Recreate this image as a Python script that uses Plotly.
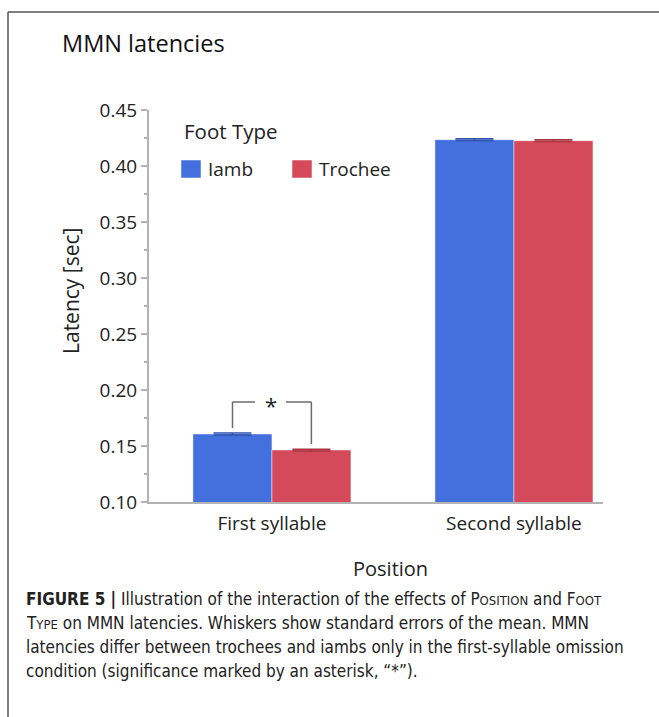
import plotly.graph_objects as go

# ---- data ----
positions = ["First syllable", "Second syllable"]
foot_types = ["Iamb", "Trochee"]
iamb_latency = [0.1607, 0.4235]
trochee_latency = [0.1464, 0.4226]
iamb_se = [0.0009, 0.0008]
trochee_se = [0.0008, 0.0008]
y_ticks = [0.10, 0.15, 0.20, 0.25, 0.30, 0.35, 0.40, 0.45]
bar_colors = ["#4470dd", "#d54a5a"]
err_colors = ["#2f52b0", "#a8353f"]

W, H = 659, 717
L, R, T, B = 149, 603, 110, 502  # plot area in pixels

def px(x):
    return (x - L) / (R - L)

def py(y):
    return (B - y) / (B - T)

FONT = "Open Sans, Noto Sans, sans-serif"
CAP_FONT = "Liberation Sans Narrow, DejaVu Sans Condensed, Arial Narrow, sans-serif"

fig = go.Figure()
series = [(foot_types[0], iamb_latency, iamb_se), (foot_types[1], trochee_latency, trochee_se)]
for i, (name, vals, se) in enumerate(series):
    fig.add_trace(go.Bar(
        x=positions, y=vals, name=name,
        marker=dict(color=bar_colors[i], line=dict(color="rgba(255,255,255,0.45)", width=1)),
        error_y=dict(type="data", array=se, visible=True, color=err_colors[i],
                     thickness=1.5, width=19),
        showlegend=False,
    ))

# significance bracket over first syllable
off = 0.163
top_y = 0.1893
bL = iamb_latency[0] + iamb_se[0] + 0.0045
bR = trochee_latency[0] + trochee_se[0] + 0.0045
line_style = dict(color="#6b6b6b", width=1.5)
fig.add_shape(type="line", xref="x", yref="y", x0=-off, x1=-off, y0=bL, y1=top_y, line=line_style)
fig.add_shape(type="line", xref="x", yref="y", x0=-off, x1=-0.07, y0=top_y, y1=top_y, line=line_style)
fig.add_shape(type="line", xref="x", yref="y", x0=0.058, x1=off, y0=top_y, y1=top_y, line=line_style)
fig.add_shape(type="line", xref="x", yref="y", x0=off, x1=off, y0=bR, y1=top_y, line=line_style)
fig.add_annotation(x=-0.005, y=top_y, xref="x", yref="y", text="*", showarrow=False,
                   font=dict(family=FONT, size=22, color="#222"), yanchor="middle", yshift=-3)

# custom legend
fig.add_annotation(x=px(182), y=py(131), xref="paper", yref="paper", text="Foot Type",
                   showarrow=False, xanchor="left", yanchor="middle",
                   font=dict(family=FONT, size=20.5, color="#222"))
sw_x = [181, 292]
for i, name in enumerate(foot_types):
    fig.add_shape(type="rect", xref="paper", yref="paper",
                  x0=px(sw_x[i]), x1=px(sw_x[i] + 20), y0=py(178), y1=py(160),
                  fillcolor=bar_colors[i], line=dict(color="rgba(255,255,255,0.5)", width=1))
    fig.add_annotation(x=px(sw_x[i] + 25), y=py(169), xref="paper", yref="paper", text=name,
                       showarrow=False, xanchor="left", yanchor="middle",
                       font=dict(family=FONT, size=19, color="#222"))

# title
fig.add_annotation(x=px(60), y=py(43), xref="paper", yref="paper", text="MMN latencies",
                   showarrow=False, xanchor="left", yanchor="middle",
                   font=dict(family=FONT, size=23.5, color="#111"))
# y-axis title
fig.add_annotation(x=px(71), y=py(291), xref="paper", yref="paper", text="Latency [sec]",
                   showarrow=False, textangle=-90, xanchor="center", yanchor="middle",
                   font=dict(family=FONT, size=21, color="#222"))
# x-axis title
fig.add_annotation(x=px(390), y=py(568), xref="paper", yref="paper", text="Position",
                   showarrow=False, xanchor="center", yanchor="middle",
                   font=dict(family=FONT, size=20, color="#222"))

# caption
sc = '<span style="font-size:13px">'
cap_lines = [
    "<b>FIGURE 5 |</b> Illustration of the interaction of the effects of P" + sc + "OSITION</span> and F" + sc + "OOT</span>",
    "T" + sc + "YPE</span> on MMN latencies. Whiskers show standard errors of the mean. MMN",
    "latencies differ between trochees and iambs only in the first-syllable omission",
    "condition (significance marked by an asterisk, \u201c*\u201d).",
]
for k, line in enumerate(cap_lines):
    fig.add_annotation(x=px(24), y=py(599 + 24 * k), xref="paper", yref="paper", text=line,
                       showarrow=False, xanchor="left", yanchor="middle",
                       font=dict(family=CAP_FONT, size=17, color="#222"))

# frame
fig.add_shape(type="line", xref="paper", yref="paper", x0=px(8), x1=px(670), y0=py(12), y1=py(12),
              line=dict(color="#555", width=1.5))
fig.add_shape(type="line", xref="paper", yref="paper", x0=px(8), x1=px(8), y0=py(12), y1=py(730),
              line=dict(color="#555", width=1.5))

fig.update_layout(
    width=W, height=H,
    margin=dict(l=L, r=W - R, t=T, b=H - B, pad=0),
    paper_bgcolor="white", plot_bgcolor="white",
    barmode="group", bargap=0.347, bargroupgap=0,
    showlegend=False,
    font=dict(family=FONT, size=19, color="#222"),
)
fig.update_xaxes(type="category", range=[-0.508, 1.368], showline=True, linecolor="#b3b3b3",
                 linewidth=2, ticks="", showgrid=False, zeroline=False, ticklabelstandoff=3,
                 tickfont=dict(family=FONT, size=19, color="#222"))
fig.update_yaxes(range=[0.10, 0.45], tickvals=y_ticks, ticktext=[f"{v:.2f}" for v in y_ticks],
                 showline=True, linecolor="#b3b3b3", linewidth=2, ticks="outside", ticklen=6,
                 tickcolor="#b3b3b3", tickwidth=1.5, showgrid=False, zeroline=False,
                 minor=dict(ticks="outside", ticklen=3, tickcolor="#b3b3b3", dtick=0.025, tick0=0.1),
                 tickfont=dict(family=FONT, size=19, color="#222"))

fig.write_html("out.html")
